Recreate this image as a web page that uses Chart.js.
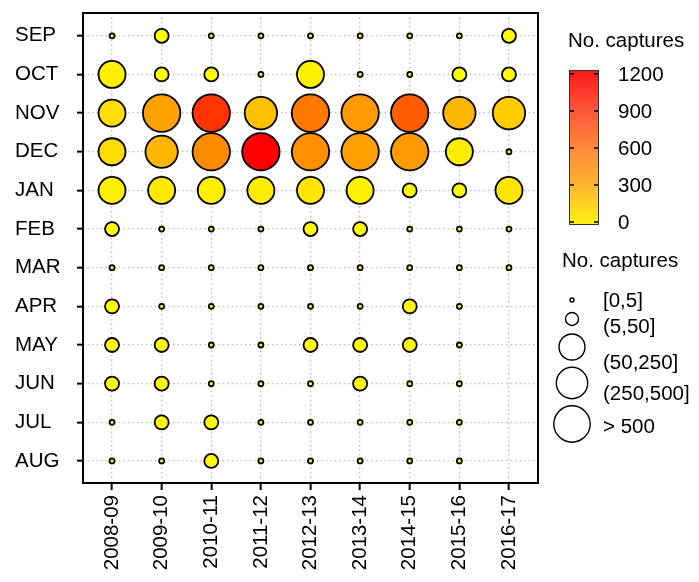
<!DOCTYPE html>
<html>
<head>
<meta charset="utf-8">
<script src="https://cdn.jsdelivr.net/npm/chart.js@4/dist/chart.umd.min.js"></script>
<style>
    html, body { margin: 0; padding: 0; background: #fff; }
    #wrap { width: 699px; height: 582px; }
</style>
</head>
<body>
<div id="wrap"><canvas id="capturesChart" width="699" height="582"></canvas></div>
<script>
const seasons = ["2008-09", "2009-10", "2010-11", "2011-12", "2012-13", "2013-14", "2014-15", "2015-16", "2016-17"];
const months = ["SEP", "OCT", "NOV", "DEC", "JAN", "FEB", "MAR", "APR", "MAY", "JUN", "JUL", "AUG"];

// captures per month, one value per season (null = no sampling)
const sep = [3, 18, 2, 1, 2, 1, 1, 2, 22];
const oct = [95, 15, 20, 1, 85, 2, 1, 16, 14];
const nov = [215, 610, 1010, 420, 760, 640, 860, 490, 340];
const dec = [240, 490, 690, 1200, 680, 620, 640, 130, 1];
const jan = [110, 150, 100, 125, 170, 75, 25, 30, 180];
const feb = [18, 2, 1, 2, 16, 20, 1, 1, 2];
const mar = [2, 1, 1, 1, 2, 1, 1, 2, 1];
const apr = [22, 2, 1, 1, 2, 2, 25, 1, null];
const may = [20, 18, 2, 1, 22, 20, 18, 1, null];
const jun = [18, 24, 2, 1, 3, 20, 2, 1, null];
const jul = [2, 20, 25, 1, 2, 1, 2, 1, null];
const aug = [2, 1, 22, 1, 1, 2, 1, 1, null];
const monthRows = [sep, oct, nov, dec, jan, feb, mar, apr, may, jun, jul, aug];

const sizeBreaks = [5, 50, 250, 500];
const sizeLabels = ["[0,5]", "(5,50]", "(50,250]", "(250,500]", "> 500"];
const colorTicks = [0, 300, 600, 900, 1200];

const FONT = "'Liberation Sans', Arial, sans-serif";
const FONT_SIZE = 20.5;
const radii = [2.5, 7, 13.5, 16.2, 18.7];

function sizeClass(v) {
    for (let i = 0; i < sizeBreaks.length; i++) {
        if (v <= sizeBreaks[i]) return i;
    }
    return sizeBreaks.length;
}

// yellow -> orange -> red ramp over 0..1200
function captureColor(v) {
    const t = Math.max(0, Math.min(1, v / 1200));
    let g;
    if (t <= 0.5) {
        g = 255 - 90 * (t / 0.5);
    } else {
        g = 165 * (1 - (t - 0.5) / 0.5);
    }
    return "rgb(255," + Math.round(g) + ",0)";
}

const points = [];
const fills = [];
monthRows.forEach(function (row, m) {
    row.forEach(function (v, s) {
        if (v === null) return;
        points.push({ x: s, y: m, r: radii[sizeClass(v)], v: v });
        fills.push(captureColor(v));
    });
});

const legendPlugin = {
    id: "captureLegends",
    afterDraw: function (chart) {
        const ctx = chart.ctx;
        const area = chart.chartArea;
        ctx.save();

        // plot frame
        ctx.strokeStyle = "#000";
        ctx.lineWidth = 2;
        ctx.strokeRect(area.left, area.top, area.right - area.left, area.bottom - area.top);

        ctx.fillStyle = "#000";
        ctx.font = FONT_SIZE + "px " + FONT;
        ctx.textAlign = "left";
        ctx.textBaseline = "middle";

        // colour bar
        ctx.fillText("No. captures", 568, 41);
        const barX = 569, barW = 30, barTop = 70, barBottom = 225;
        const tickTop = 74, tickBottom = 222;
        const grad = ctx.createLinearGradient(0, barBottom, 0, barTop);
        grad.addColorStop(0, "#fff214");
        grad.addColorStop(0.25, "#ffb52e");
        grad.addColorStop(0.5, "#ff893c");
        grad.addColorStop(0.75, "#ff533a");
        grad.addColorStop(1, "#ff1818");
        ctx.fillStyle = grad;
        ctx.fillRect(barX, barTop, barW, barBottom - barTop);
        ctx.strokeStyle = "#333";
        ctx.lineWidth = 1;
        ctx.strokeRect(barX + 0.5, barTop + 0.5, barW - 1, barBottom - barTop - 1);

        ctx.fillStyle = "#000";
        ctx.strokeStyle = "#000";
        ctx.lineWidth = 1.5;
        colorTicks.forEach(function (v) {
            const y = tickBottom - (v / 1200) * (tickBottom - tickTop);
            ctx.beginPath();
            ctx.moveTo(barX + 1, y);
            ctx.lineTo(barX + 5, y);
            ctx.moveTo(barX + barW - 5, y);
            ctx.lineTo(barX + barW - 1, y);
            ctx.stroke();
            ctx.fillText(String(v), 618, y + 1);
        });

        // size legend
        ctx.fillText("No. captures", 562, 261);
        const circleY = [300, 319, 347, 383, 424];
        const labelY = [301, 327, 363, 394, 427];
        ctx.lineWidth = 1.4;
        sizeLabels.forEach(function (label, i) {
            ctx.beginPath();
            ctx.arc(572, circleY[i], i === 0 ? 2 : radii[i] - 0.5, 0, Math.PI * 2);
            ctx.fillStyle = "#fff";
            ctx.fill();
            ctx.stroke();
            ctx.fillStyle = "#000";
            ctx.fillText(label, 603, labelY[i]);
        });

        ctx.restore();
    }
};

function buildChart() {
    const canvas = document.getElementById("capturesChart");

    return new Chart(canvas, {
        type: "bubble",
        data: {
            datasets: [{
                data: points,
                backgroundColor: fills,
                borderColor: "#000",
                borderWidth: 1.8,
                hoverRadius: 0,
            }],
        },
        options: {
            responsive: false,
            animation: false,
            events: [],
            layout: {
                autoPadding: false,
                padding: { top: 13, right: 161, left: 15, bottom: 0 },
            },
            plugins: {
                legend: { display: false },
                tooltip: { enabled: false },
            },
            scales: {
                x: {
                    type: "linear",
                    min: -0.585,
                    max: 8.585,
                    afterFit: function (scale) {
                        scale.height = 99;
                        scale.paddingLeft = 0;
                        scale.paddingRight = 0;
                    },
                    grid: {
                        color: "#bdbdbd",
                        lineWidth: 1.3,
                        tickColor: "#000",
                        tickLength: 7,
                        tickBorderDash: [],
                        tickWidth: 2,
                    },
                    border: { display: false, dash: [1.5, 3] },
                    ticks: {
                        stepSize: 1,
                        includeBounds: false,
                        autoSkip: false,
                        minRotation: 90,
                        maxRotation: 90,
                        padding: 5,
                        color: "#000",
                        font: { family: FONT, size: FONT_SIZE },
                        callback: function (value) { return seasons[value]; },
                    },
                },
                y: {
                    type: "linear",
                    reverse: true,
                    min: -0.59,
                    max: 11.57,
                    afterFit: function (scale) {
                        scale.width = 68;
                        scale.paddingTop = 0;
                        scale.paddingBottom = 0;
                    },
                    grid: {
                        color: "#bdbdbd",
                        lineWidth: 1.3,
                        tickColor: "#000",
                        tickLength: 6,
                        tickBorderDash: [],
                        tickWidth: 2,
                    },
                    border: { display: false, dash: [1.5, 3] },
                    ticks: {
                        stepSize: 1,
                        includeBounds: false,
                        autoSkip: false,
                        crossAlign: "far",
                        padding: 8,
                        color: "#000",
                        font: { family: FONT, size: FONT_SIZE },
                        callback: function (value) { return months[value]; },
                    },
                },
            },
        },
        plugins: [legendPlugin],
    });
}

document.addEventListener("DOMContentLoaded", function () {
    buildChart();
});
</script>
</body>
</html>
